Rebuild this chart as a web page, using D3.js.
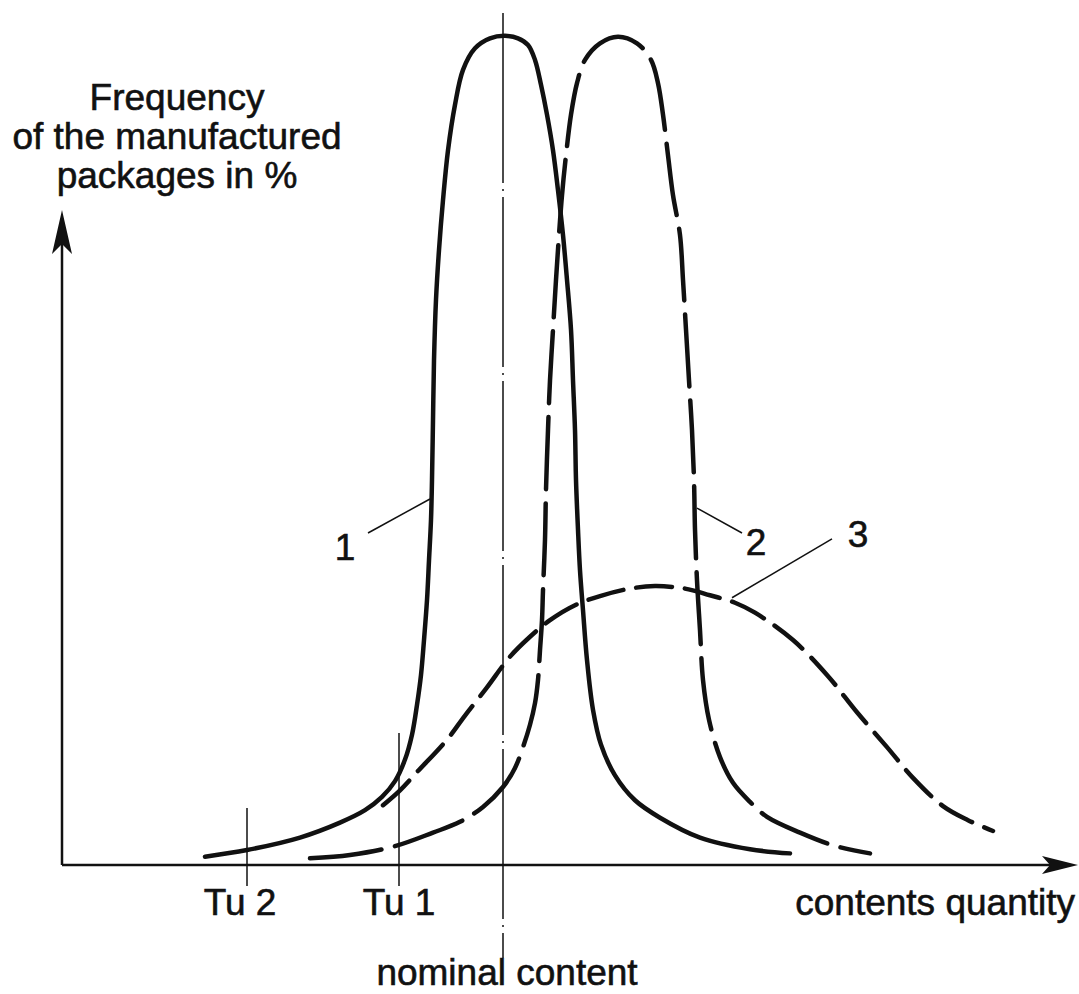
<!DOCTYPE html>
<html>
<head>
<meta charset="utf-8">
<script src="https://cdn.jsdelivr.net/npm/d3@7"></script>
<style>
  body { margin: 0; background: #fff; }
  text { font-family: "Liberation Sans", Arial, sans-serif; font-size: 37px; fill: #111; stroke: #111; stroke-width: 0.6px; }
</style>
</head>
<body>
<svg class="chart"></svg>
<script>
// contents quantity (x) and frequency in % (y)
var curve1X = [14.3, 18.5, 23.8, 27.8, 30.3, 32.0, 33.3, 34.3, 35.0, 35.5, 35.9, 36.2, 36.5, 36.7, 36.9, 37.0, 37.1, 37.2, 37.4, 37.7, 38.1, 38.6, 39.3, 40.1, 41.3, 42.8, 44.3, 45.6, 46.6, 47.3, 47.9, 48.5, 49.1, 49.6, 50.1, 50.5, 50.9, 51.1, 51.3, 51.4, 51.6, 51.8, 52.1, 52.5, 53.1, 53.9, 55.3, 57.3, 59.8, 63.8, 68.8, 72.8];
var curve1Y = [1.0, 1.8, 3.3, 5.1, 6.6, 8.2, 10.1, 12.7, 15.7, 19.3, 22.9, 27.1, 31.9, 36.7, 41.6, 46.4, 53.6, 60.8, 68.1, 74.1, 80.1, 86.1, 91.6, 95.8, 98.4, 99.6, 99.9, 99.6, 98.8, 97.0, 94.0, 90.4, 86.1, 81.3, 75.9, 70.5, 64.5, 58.4, 52.4, 46.4, 40.4, 35.5, 30.7, 24.7, 18.7, 14.5, 10.8, 7.8, 5.7, 3.3, 1.9, 1.4];

var curve2X = [24.8, 28.8, 33.1, 37.1, 39.8, 42.1, 44.1, 45.3, 46.1, 46.8, 47.3, 47.6, 47.8, 48.0, 48.1, 48.3, 48.4, 48.6, 48.8, 49.1, 49.4, 49.7, 50.0, 50.4, 50.9, 51.5, 52.3, 53.8, 55.6, 57.5, 58.9, 59.6, 60.1, 60.6, 61.1, 61.8, 62.1, 62.4, 62.7, 63.0, 63.2, 63.3, 63.5, 63.8, 64.1, 64.7, 65.8, 67.1, 68.8, 70.5, 73.8, 77.3, 80.8];
var curve2Y = [0.8, 1.2, 2.2, 3.9, 5.2, 7.0, 9.4, 11.7, 14.2, 16.9, 19.5, 22.3, 25.9, 29.5, 33.1, 39.2, 45.2, 52.4, 58.4, 64.5, 70.5, 75.9, 80.7, 85.5, 90.4, 94.2, 97.0, 99.0, 99.8, 99.0, 97.0, 94.2, 90.4, 85.5, 80.7, 75.9, 70.5, 64.5, 58.4, 52.4, 46.4, 40.4, 34.3, 28.3, 22.3, 17.5, 13.0, 9.9, 7.6, 5.8, 3.9, 2.3, 1.4];

var curve3X = [32.1, 33.8, 35.5, 38.5, 40.3, 42.5, 44.8, 46.8, 48.8, 51.3, 53.8, 56.8, 59.3, 62.3, 64.8, 67.3, 69.3, 73.1, 76.5, 79.5, 82.5, 85.1, 88.1, 90.6, 93.1];
var curve3Y = [7.2, 9.0, 11.2, 15.1, 18.0, 21.4, 25.1, 27.5, 29.5, 31.3, 32.4, 33.3, 33.6, 33.3, 32.5, 31.6, 30.4, 27.1, 22.9, 18.4, 14.2, 10.5, 7.1, 5.4, 4.1];

// limits on the quantity axis
var limitNames = ['Tu 2', 'Tu 1'];
var limitValues = [18.5, 33.7];
var nominalValue = 44.1;

// curve numbers: where the leader leaves the curve, where it ends, where the number sits
var curveNames = ['1', '2', '3'];
var leaderFrom = [[36.8, 44.1], [63.5, 43.0], [67.0, 32.2]];
var leaderTo = [[30.6, 40.0], [68.0, 40.0], [77.0, 39.3]];
var labelAt = [[28.3, 36.7], [69.4, 37.3], [79.6, 38.3]];

var width = 1079;
var height = 994;

var x = d3.scaleLinear().domain([0, 100]).range([62, 1062]);
var y = d3.scaleLinear().domain([0, 100]).range([865, 35]);

var chart = d3.select('.chart')
  .attr('width', width)
  .attr('height', height);

//axes
var axisTop = 210;
var axisRight = 1078;

chart.append('line')
  .attr('x1', x(0)).attr('y1', y(0))
  .attr('x2', x(0)).attr('y2', axisTop + 12)
  .attr('stroke', '#111').attr('stroke-width', 2.5);

chart.append('line')
  .attr('x1', x(0)).attr('y1', y(0))
  .attr('x2', axisRight - 12).attr('y2', y(0))
  .attr('stroke', '#111').attr('stroke-width', 2.5);

// arrow heads
chart.append('path')
  .attr('d', 'M' + x(0) + ',' + axisTop + 'L' + (x(0) + 10) + ',' + (axisTop + 44) +
    'L' + x(0) + ',' + (axisTop + 34) + 'L' + (x(0) - 10) + ',' + (axisTop + 44) + 'Z')
  .attr('fill', '#111');

chart.append('path')
  .attr('d', 'M' + axisRight + ',' + y(0) + 'L' + (axisRight - 36) + ',' + (y(0) - 9) +
    'L' + (axisRight - 28) + ',' + y(0) + 'L' + (axisRight - 36) + ',' + (y(0) + 9) + 'Z')
  .attr('fill', '#111');

//limit ticks
var tickTops = [808, 733];
chart.selectAll('.limit')
  .data(limitValues)
  .enter().append('line')
  .attr('class', 'limit')
  .attr('x1', d => x(d)).attr('x2', d => x(d))
  .attr('y1', (d, i) => tickTops[i]).attr('y2', y(0) + 21)
  .attr('stroke', '#111').attr('stroke-width', 1.5);

chart.selectAll('.limit-label')
  .data(limitNames)
  .enter().append('text')
  .attr('class', 'limit-label')
  .attr('x', (d, i) => x(limitValues[i]) + (i == 0 ? -7 : 0))
  .attr('y', 915)
  .attr('text-anchor', 'middle')
  .text(d => d);

//nominal content line
chart.append('line')
  .attr('x1', x(nominalValue)).attr('x2', x(nominalValue))
  .attr('y1', 13).attr('y2', 958)
  .attr('stroke', '#111').attr('stroke-width', 1.5)
  .attr('stroke-dasharray', '170,6,2,6');

chart.append('text')
  .attr('x', x(nominalValue) + 4)
  .attr('y', 985)
  .attr('text-anchor', 'middle')
  .text('nominal content');

chart.append('text')
  .attr('x', 1075)
  .attr('y', 915)
  .attr('text-anchor', 'end')
  .text('contents quantity');

var title = chart.append('text')
  .attr('x', 177)
  .attr('y', 110)
  .attr('text-anchor', 'middle');
['Frequency', 'of the manufactured', 'packages in %'].forEach((t, i) => {
  title.append('tspan').attr('x', 177).attr('dy', i == 0 ? 0 : 39).text(t);
});

//curves
var line = d3.line()
  .x(d => x(d[0]))
  .y(d => y(d[1]))
  .curve(d3.curveCatmullRom.alpha(0.5));

var curves = [
  { xs: curve1X, ys: curve1Y, dash: null },
  { xs: curve2X, ys: curve2Y, dash: '72,14' },
  { xs: curve3X, ys: curve3Y, dash: '36,13' }
];

chart.selectAll('.curve')
  .data(curves)
  .enter().append('path')
  .attr('class', 'curve')
  .attr('d', c => line(c.xs.map((v, i) => [v, c.ys[i]])))
  .attr('fill', 'none')
  .attr('stroke', '#111')
  .attr('stroke-width', 4.5)
  .attr('stroke-linecap', 'round')
  .attr('stroke-dasharray', c => c.dash);

//curve numbers
chart.selectAll('.leader')
  .data(curveNames)
  .enter().append('line')
  .attr('class', 'leader')
  .attr('x1', (d, i) => x(leaderFrom[i][0])).attr('y1', (d, i) => y(leaderFrom[i][1]))
  .attr('x2', (d, i) => x(leaderTo[i][0])).attr('y2', (d, i) => y(leaderTo[i][1]))
  .attr('stroke', '#111').attr('stroke-width', 1.5);

chart.selectAll('.curve-label')
  .data(curveNames)
  .enter().append('text')
  .attr('class', 'curve-label')
  .attr('x', (d, i) => x(labelAt[i][0]))
  .attr('y', (d, i) => y(labelAt[i][1]))
  .attr('text-anchor', 'middle')
  .text(d => d);
</script>
</body>
</html>
